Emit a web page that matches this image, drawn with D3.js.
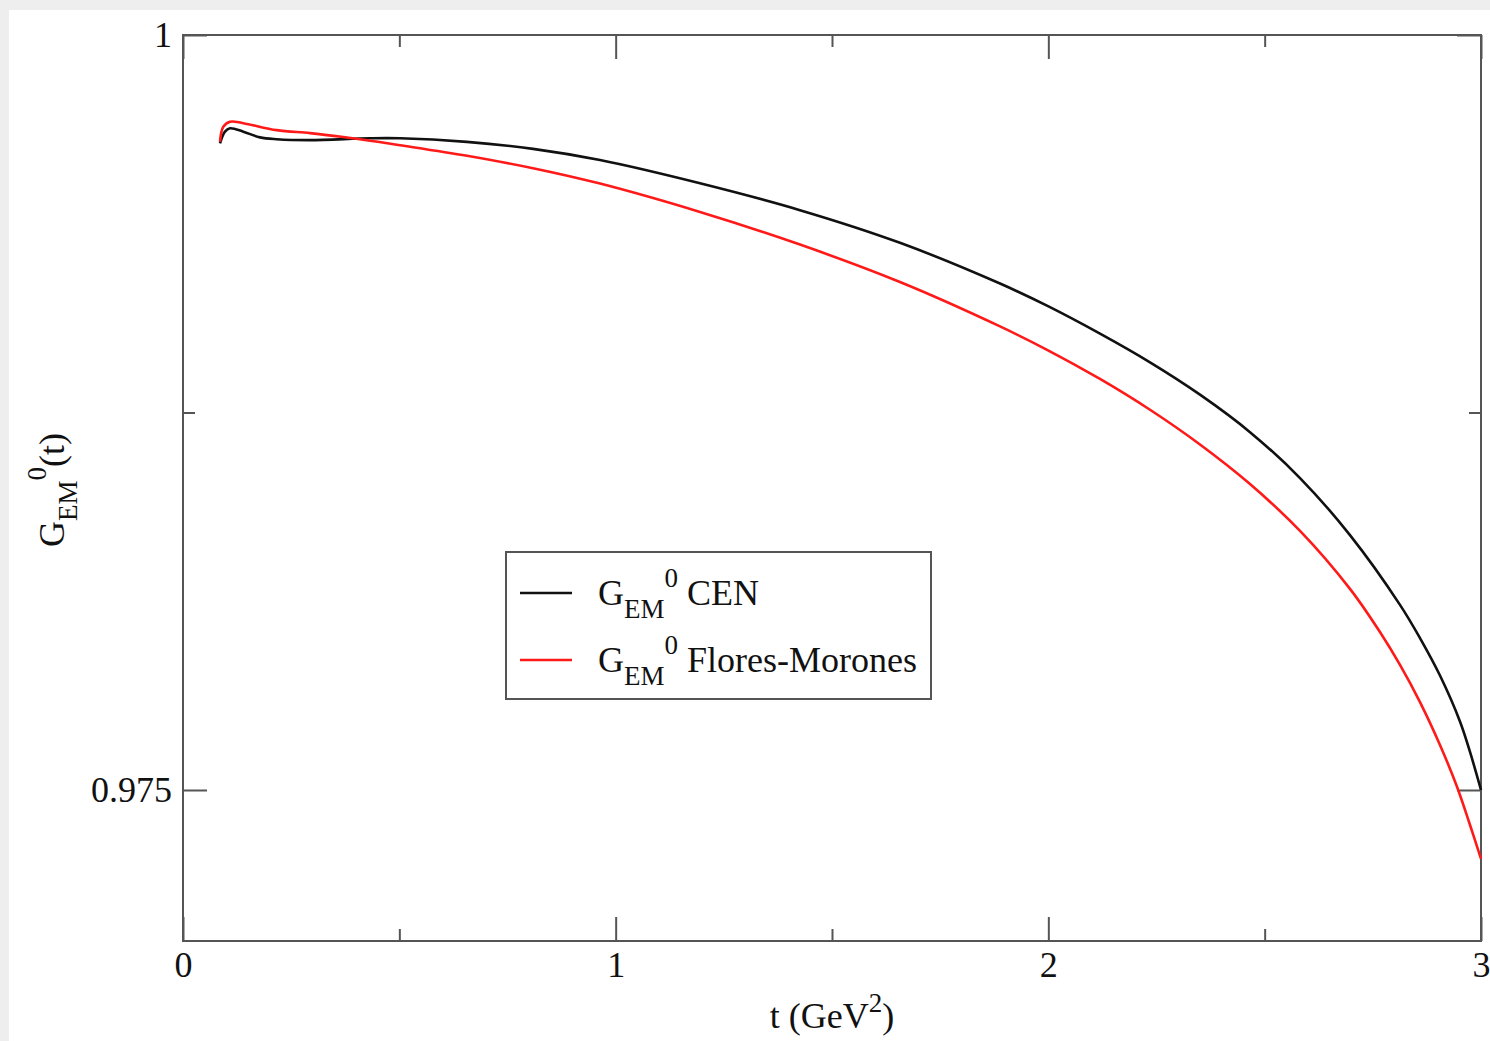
<!DOCTYPE html>
<html>
<head>
<meta charset="utf-8">
<script src="https://cdn.jsdelivr.net/npm/d3@7/dist/d3.min.js"></script>
<style>
  html, body { margin: 0; padding: 0; background: #eeeeee; }
  svg { display: block; }
  text { font-family: "Liberation Serif", "DejaVu Serif", serif; fill: #111; }
</style>
</head>
<body>
<svg id="chart" width="1490" height="1041"></svg>
<script>
// G_EM^0(t) for the CEN model, sampled along t (GeV^2)
const cenT = [0.0855, 0.097, 0.1086, 0.1394, 0.178, 0.2166, 0.2935, 0.432, 0.5015, 0.656, 0.809, 0.9638,
              1.1949, 1.426, 1.6571, 1.8883, 1.9992, 2.1194, 2.235, 2.3505, 2.4661, 2.5817, 2.6972, 2.8128,
              2.859, 2.9052, 2.9514, 2.9746, 3.0];
const cenG = [0.99641, 0.99680, 0.99691, 0.99680, 0.99661, 0.99655, 0.99652, 0.99658, 0.99658, 0.99646, 0.99623, 0.99586,
              0.99509, 0.99420, 0.99312, 0.99177, 0.99102, 0.99011, 0.98916, 0.98809, 0.98685, 0.98533, 0.98344, 0.98113,
              0.98003, 0.97879, 0.97727, 0.97626, 0.97500];

// G_EM^0(t) for the Flores-Morones parametrisation
const fmT = [0.0855, 0.0931, 0.1086, 0.1394, 0.2166, 0.2935, 0.3705, 0.4322, 0.5015, 0.6564, 0.8089, 0.9638,
             1.1949, 1.426, 1.6571, 1.8883, 1.9992, 2.1194, 2.235, 2.3505, 2.4661, 2.5817, 2.6972, 2.7665,
             2.8128, 2.859, 2.9052, 2.9439, 2.9746, 3.0];
const fmG = [0.99647, 0.99696, 0.99713, 0.99708, 0.99685, 0.99675, 0.99662, 0.99650, 0.99635, 0.99600, 0.99559, 0.99508,
             0.99414, 0.99306, 0.99182, 0.99035, 0.98956, 0.98861, 0.98759, 0.98644, 0.98513, 0.98358, 0.98166, 0.98023,
             0.97914, 0.97791, 0.97649, 0.97513, 0.97384, 0.97272];

// axis ticks
const xMajor = [0, 1, 2, 3];
const xMinor = [0.5, 1.5, 2.5];
const yMajor = [0.975, 1];
const yMinor = [0.9875];

const svg = d3.select("#chart");

// white page area
svg.append("rect").attr("x", 9).attr("y", 10).attr("width", 1481).attr("height", 1031).attr("fill", "#ffffff");

const plotL = 183, plotR = 1481, plotT = 35, plotB = 941;
const x = d3.scaleLinear().domain([0, 3]).range([plotL, plotR]);
const y = d3.scaleLinear().domain([0.97, 1]).range([plotB, plotT]);

const frameColor = "#555";
const majorLen = 24, minorLen = 12;

function styleAxis(g) {
  g.select(".domain").remove();
  g.selectAll(".tick line").attr("stroke", frameColor).attr("stroke-width", 2);
}

// bottom axis with labels
const gxb = svg.append("g").attr("transform", `translate(0,${plotB})`)
  .call(d3.axisBottom(x).tickValues(xMajor).tickSize(-majorLen).tickFormat(d3.format("d")));
styleAxis(gxb);
gxb.selectAll(".tick text").attr("y", 36).attr("dy", null)
  .attr("font-size", 36).attr("font-family", "Liberation Serif").attr("fill", "#111");
svg.append("g").attr("transform", `translate(0,${plotB})`)
  .call(d3.axisBottom(x).tickValues(xMinor).tickSize(-minorLen).tickFormat(""))
  .call(styleAxis);

// top axis (ticks only)
svg.append("g").attr("transform", `translate(0,${plotT})`)
  .call(d3.axisTop(x).tickValues(xMajor).tickSize(-majorLen).tickFormat(""))
  .call(styleAxis);
svg.append("g").attr("transform", `translate(0,${plotT})`)
  .call(d3.axisTop(x).tickValues(xMinor).tickSize(-minorLen).tickFormat(""))
  .call(styleAxis);

// left axis with labels
const gyl = svg.append("g").attr("transform", `translate(${plotL},0)`)
  .call(d3.axisLeft(y).tickValues(yMajor).tickSize(-majorLen).tickFormat(d => d === 1 ? "1" : d3.format(".3f")(d)));
styleAxis(gyl);
gyl.selectAll(".tick text").attr("x", -11).attr("dy", "0.32em")
  .attr("font-size", 36).attr("font-family", "Liberation Serif").attr("fill", "#111");
svg.append("g").attr("transform", `translate(${plotL},0)`)
  .call(d3.axisLeft(y).tickValues(yMinor).tickSize(-minorLen).tickFormat(""))
  .call(styleAxis);

// right axis (ticks only)
svg.append("g").attr("transform", `translate(${plotR},0)`)
  .call(d3.axisRight(y).tickValues(yMajor).tickSize(-majorLen).tickFormat(""))
  .call(styleAxis);
svg.append("g").attr("transform", `translate(${plotR},0)`)
  .call(d3.axisRight(y).tickValues(yMinor).tickSize(-minorLen).tickFormat(""))
  .call(styleAxis);

// frame
svg.append("rect").attr("x", plotL).attr("y", plotT).attr("width", plotR - plotL).attr("height", plotB - plotT)
  .attr("fill", "none").attr("stroke", frameColor).attr("stroke-width", 2);

// curves
const line = d3.line().x(d => x(d[0])).y(d => y(d[1])).curve(d3.curveCatmullRom.alpha(0.5));
const series = [
  { t: cenT, g: cenG, color: "#111111" },
  { t: fmT, g: fmG, color: "#ff1a1a" }
];
series.forEach(s => {
  svg.append("path").datum(d3.zip(s.t, s.g)).attr("d", line)
    .attr("fill", "none").attr("stroke", s.color).attr("stroke-width", 2.6)
    .attr("stroke-linejoin", "round");
});

// G_EM^0 with sub/superscripts, followed by trailing text
function gem(textSel, tail) {
  textSel.append("tspan").text("G");
  textSel.append("tspan").attr("font-size", 27).attr("dy", 13).text("EM");
  textSel.append("tspan").attr("font-size", 27).attr("dy", -31).text("0");
  textSel.append("tspan").attr("font-size", 36).attr("dy", 18).text(tail);
}

// legend
const lg = svg.append("g");
lg.append("rect").attr("x", 506).attr("y", 552).attr("width", 425).attr("height", 147)
  .attr("fill", "#fff").attr("stroke", frameColor).attr("stroke-width", 2);
const legendItems = [
  { label: "\u00a0CEN", color: "#111111" },
  { label: "\u00a0Flores-Morones", color: "#ff1a1a" }
];
legendItems.forEach((it, i) => {
  const yy = 593 + i * 67;
  lg.append("line").attr("x1", 520).attr("x2", 572).attr("y1", yy).attr("y2", yy)
    .attr("stroke", it.color).attr("stroke-width", 2.6);
  const t = lg.append("text").attr("x", 598).attr("y", yy + 12).attr("font-size", 36);
  gem(t, it.label);
});

// axis titles
const xt = svg.append("text").attr("x", 832).attr("y", 1028).attr("text-anchor", "middle").attr("font-size", 36);
xt.append("tspan").text("t (GeV");
xt.append("tspan").attr("font-size", 27).attr("dy", -16).text("2");
xt.append("tspan").attr("font-size", 36).attr("dy", 16).text(")");

const yt = svg.append("text").attr("transform", "translate(64,490) rotate(-90)")
  .attr("text-anchor", "middle").attr("font-size", 36);
gem(yt, "(t)");
</script>
</body>
</html>
